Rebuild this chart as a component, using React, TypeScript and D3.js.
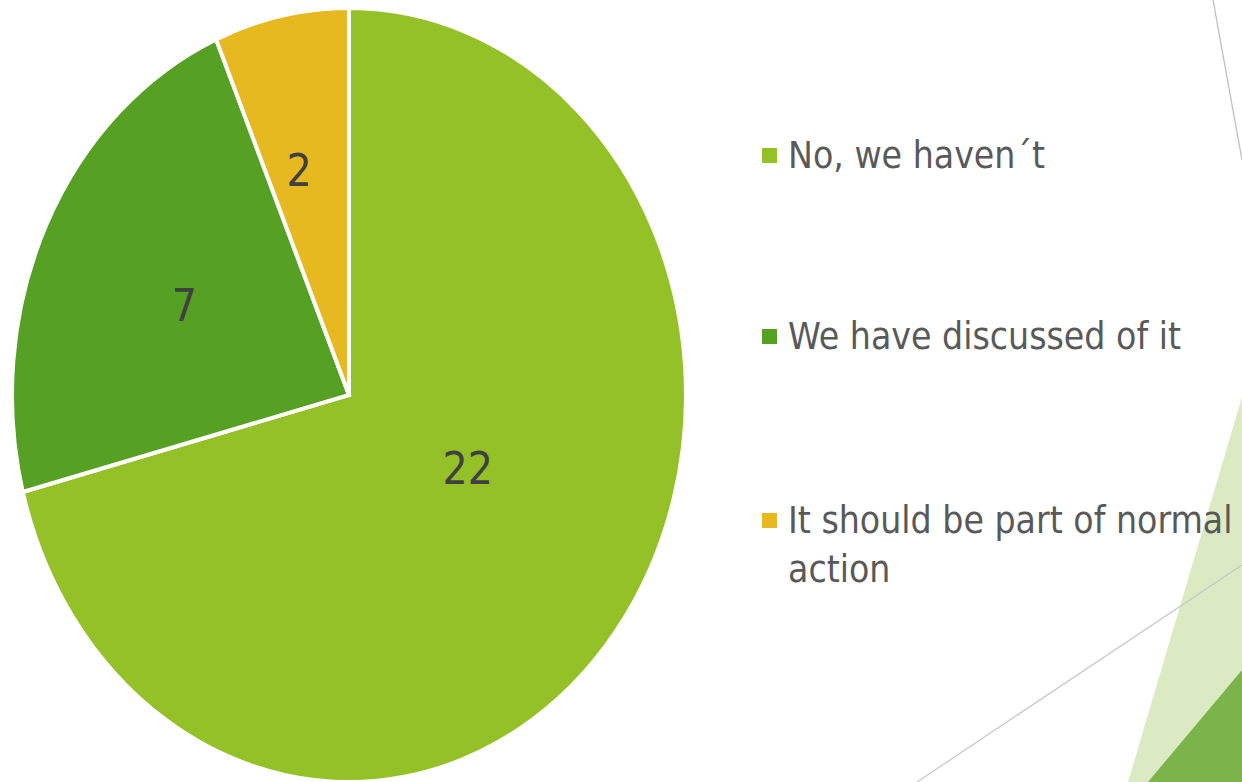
import React, { useEffect, useRef } from "react";
import * as d3 from "d3";

const categories = ["No, we haven´t", "We have discussed of it", "It should be part of normal action"];
const values = [22, 7, 2];
const colors = ["#93C127", "#56A023", "#E6B921"];
const legendLines = [["No, we haven´t"], ["We have discussed of it"], ["It should be part of normal", "action"]];

const W = 1242;
const H = 782;
const FONT = "'DejaVu Sans Condensed', 'DejaVu Sans', sans-serif";

export default function App() {
  const ref = useRef<SVGSVGElement | null>(null);

  useEffect(() => {
    const svg = d3.select(ref.current);
    svg.selectAll("*").remove();

    svg.append("rect").attr("width", W).attr("height", H).attr("fill", "#ffffff");

    // decorative slide background
    const deco = svg.append("g");
    deco.append("polygon").attr("points", "1242,397 1128,782 1242,782").attr("fill", "#DCEAC3");
    deco.append("polygon").attr("points", "1242,670 1148,782 1242,782").attr("fill", "#7AB44B");
    deco.append("line").attr("x1", 1213).attr("y1", 0).attr("x2", 1242).attr("y2", 160)
      .attr("stroke", "#BFBFBF").attr("stroke-width", 1.3);
    deco.append("line").attr("x1", 917).attr("y1", 782).attr("x2", 1242).attr("y2", 565)
      .attr("stroke", "#C8C8C8").attr("stroke-width", 1.3);

    const rx = 337;
    const ry = 387;
    const cx = 349;
    const cy = 395;
    const sy = ry / rx;

    const data = categories.map((c, i) => ({ name: c, value: values[i], color: colors[i] }));
    const pie = d3.pie<any>().sort(null).value((d: any) => d.value).startAngle(0).endAngle(2 * Math.PI);
    const arcs = pie(data);
    const arc = d3.arc<any>().innerRadius(0).outerRadius(rx);

    const g = svg.append("g").attr("transform", `translate(${cx},${cy}) scale(1,${sy})`);
    g.selectAll("path")
      .data(arcs)
      .join("path")
      .attr("d", arc as any)
      .attr("fill", (d: any) => d.data.color)
      .attr("stroke", "#ffffff")
      .attr("stroke-width", 4)
      .attr("vector-effect", "non-scaling-stroke");

    // data labels (best-fit placement: radius fraction and angular shift per slice)
    const LABEL_RADIUS = [0.4, 0.54, 0.6];
    const LABEL_SHIFT = [-9.4, -0.9, -2.7];
    arcs.forEach((a: any, i: number) => {
      const mid = (a.startAngle + a.endAngle) / 2 + (LABEL_SHIFT[i] * Math.PI) / 180;
      const r = rx * LABEL_RADIUS[i];
      const x = cx + Math.sin(mid) * r;
      const y = cy - Math.cos(mid) * r * sy;
      svg.append("text")
        .attr("x", x)
        .attr("y", y)
        .attr("text-anchor", "middle")
        .attr("dominant-baseline", "central")
        .attr("font-family", FONT)
        .attr("font-stretch", "condensed")
        .attr("font-size", 44)
        .attr("fill", "#404040")
        .text(String(a.data.value));
    });

    // legend
    const legendY = [168, 349, 533];
    legendLines.forEach((lines, i) => {
      svg.append("rect")
        .attr("x", 762).attr("y", legendY[i] - 20)
        .attr("width", 15).attr("height", 15)
        .attr("fill", colors[i]);
      const t = svg.append("text")
        .attr("x", 788).attr("y", legendY[i])
        .attr("font-family", FONT)
        .attr("font-stretch", "condensed")
        .attr("font-size", 37)
        .attr("fill", "#595959");
      lines.forEach((ln, j) => {
        t.append("tspan").attr("x", 788).attr("y", legendY[i] + j * 49).text(ln);
      });
    });
  }, []);

  return (
    <svg
      ref={ref}
      width={W}
      height={H}
      style={{ position: "absolute", left: 0, top: 0, display: "block" }}
    />
  );
}
